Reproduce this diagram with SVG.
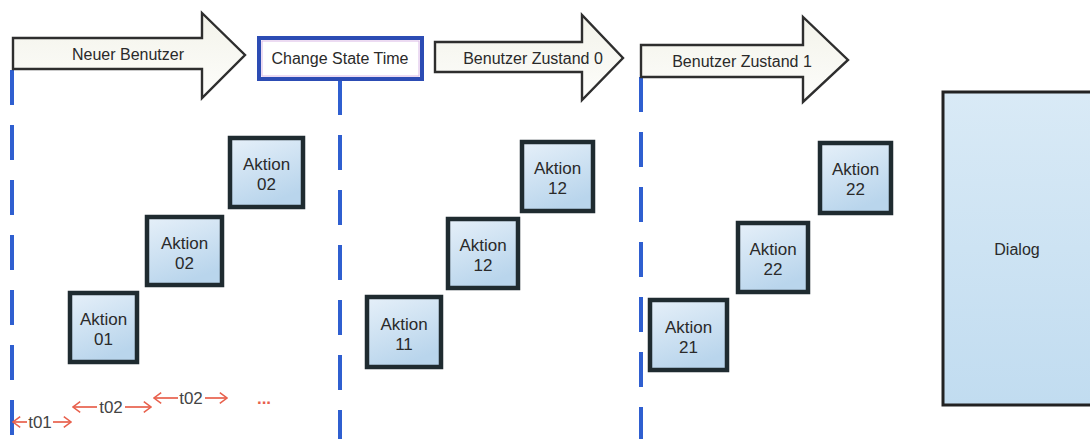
<svg xmlns="http://www.w3.org/2000/svg" width="1090" height="439" viewBox="0 0 1090 439">
  <defs>
    <linearGradient id="arrowFill" x1="0" y1="0" x2="0" y2="1">
      <stop offset="0" stop-color="#f3f3ea"/>
      <stop offset="1" stop-color="#fdfdfb"/>
    </linearGradient>
    <linearGradient id="boxFill" x1="0" y1="0" x2="0.4" y2="1">
      <stop offset="0" stop-color="#e6f0f9"/>
      <stop offset="1" stop-color="#b9d5ec"/>
    </linearGradient>
    <linearGradient id="dialogFill" x1="0" y1="0" x2="0" y2="1">
      <stop offset="0" stop-color="#d9eaf6"/>
      <stop offset="1" stop-color="#c1dcf0"/>
    </linearGradient>
    <marker id="tick" viewBox="0 0 10 14" refX="9" refY="7" markerWidth="9" markerHeight="14" markerUnits="userSpaceOnUse" orient="auto-start-reverse">
      <path d="M1,1 L9,7 L1,13" fill="none" stroke="#e8604c" stroke-width="1.7"/>
    </marker>
    <style>
      text { font-family: "Liberation Sans", Arial, sans-serif; fill: #2a2a2a; text-anchor: middle; }
      .phase { fill: url(#arrowFill); stroke: #2e2e2e; stroke-width: 2.4; stroke-linejoin: miter; }
      .head { font-size: 16px; }
      .act rect { fill: url(#boxFill); stroke: #1f2b30; stroke-width: 4.5; }
      .act text { font-size: 17px; }
      .lane { stroke: #2f5fd0; stroke-width: 4; stroke-dasharray: 35 20; fill: none; }
      .span { stroke: #e8604c; stroke-width: 1.7; fill: none; }
      .tlabel { font-size: 17px; fill: #444; }
    </style>
  </defs>

  <rect width="1090" height="439" fill="#ffffff"/>

  <!-- timeline lanes and time-span markers -->
  <g id="connectors">
    <line class="lane" x1="12" y1="70" x2="12" y2="439"/>
    <line class="lane" x1="340" y1="80" x2="340" y2="439" stroke-dasharray="32 20 35 20"/>
    <line class="lane" x1="641" y1="77" x2="641" y2="439"/>

    <line class="span" x1="13" y1="422" x2="27" y2="422" marker-start="url(#tick)"/>
    <line class="span" x1="53" y1="422" x2="71" y2="422" marker-end="url(#tick)"/>
    <line class="span" x1="73" y1="407" x2="97" y2="407" marker-start="url(#tick)"/>
    <line class="span" x1="125" y1="407" x2="151" y2="407" marker-end="url(#tick)"/>
    <line class="span" x1="154" y1="398" x2="178" y2="398" marker-start="url(#tick)"/>
    <line class="span" x1="205" y1="398" x2="227" y2="398" marker-end="url(#tick)"/>
    <text class="tlabel" x="40" y="428">t01</text>
    <text class="tlabel" x="111" y="413">t02</text>
    <text class="tlabel" x="191" y="404">t02</text>
    <text x="264" y="404" font-size="17" font-weight="bold" style="fill:#e8604c">...</text>
  </g>

  <!-- phase arrows -->
  <g id="neuer-benutzer">
    <polygon class="phase" points="13,38 202,38 202,13 245,55 202,98 202,69 13,69"/>
    <text class="head" x="128" y="60">Neuer Benutzer</text>
  </g>

  <g id="change-state-time">
    <rect x="259" y="38" width="163" height="41" fill="#ffffff" stroke="#2c4cb4" stroke-width="4"/>
    <rect x="262" y="41" width="157" height="35" fill="none" stroke="#d9b8e6" stroke-width="1"/>
    <text class="head" x="340" y="64">Change State Time</text>
  </g>

  <g id="benutzer-zustand-0">
    <polygon class="phase" points="435,42 582,42 582,15 623,58 582,100 582,72 435,72"/>
    <text class="head" x="533" y="64">Benutzer Zustand 0</text>
  </g>

  <g id="benutzer-zustand-1">
    <polygon class="phase" points="641,45 803,45 803,17 848,60 803,102 803,77 641,77"/>
    <text class="head" x="742" y="67">Benutzer Zustand 1</text>
  </g>

  <!-- actions, phase "Neuer Benutzer" -->
  <g id="aktion-01" class="act">
    <rect x="70" y="293" width="67" height="69"/>
    <text x="103.5" y="325">Aktion</text>
    <text x="103.5" y="345">01</text>
  </g>
  <g id="aktion-02a" class="act">
    <rect x="147" y="217" width="75" height="68"/>
    <text x="184.5" y="249">Aktion</text>
    <text x="184.5" y="269">02</text>
  </g>
  <g id="aktion-02b" class="act">
    <rect x="230" y="138" width="73" height="69"/>
    <text x="266.5" y="170">Aktion</text>
    <text x="266.5" y="190">02</text>
  </g>

  <!-- actions, phase "Benutzer Zustand 0" -->
  <g id="aktion-11" class="act">
    <rect x="367" y="297" width="74" height="70"/>
    <text x="404" y="330">Aktion</text>
    <text x="404" y="350">11</text>
  </g>
  <g id="aktion-12a" class="act">
    <rect x="448" y="219" width="70" height="69"/>
    <text x="483" y="251">Aktion</text>
    <text x="483" y="271">12</text>
  </g>
  <g id="aktion-12b" class="act">
    <rect x="522" y="142" width="71" height="69"/>
    <text x="557.5" y="174">Aktion</text>
    <text x="557.5" y="194">12</text>
  </g>

  <!-- actions, phase "Benutzer Zustand 1" -->
  <g id="aktion-21" class="act">
    <rect x="650" y="300" width="77" height="70"/>
    <text x="688.5" y="333">Aktion</text>
    <text x="688.5" y="353">21</text>
  </g>
  <g id="aktion-22a" class="act">
    <rect x="738" y="223" width="70" height="69"/>
    <text x="773" y="255">Aktion</text>
    <text x="773" y="275">22</text>
  </g>
  <g id="aktion-22b" class="act">
    <rect x="820" y="143" width="71" height="70"/>
    <text x="855.5" y="175">Aktion</text>
    <text x="855.5" y="195">22</text>
  </g>

  <!-- dialog panel, running off the right edge -->
  <g id="dialog">
    <rect x="943" y="92" width="160" height="313" fill="url(#dialogFill)" stroke="#222" stroke-width="3"/>
    <text x="1017" y="255" font-size="16">Dialog</text>
  </g>
</svg>
